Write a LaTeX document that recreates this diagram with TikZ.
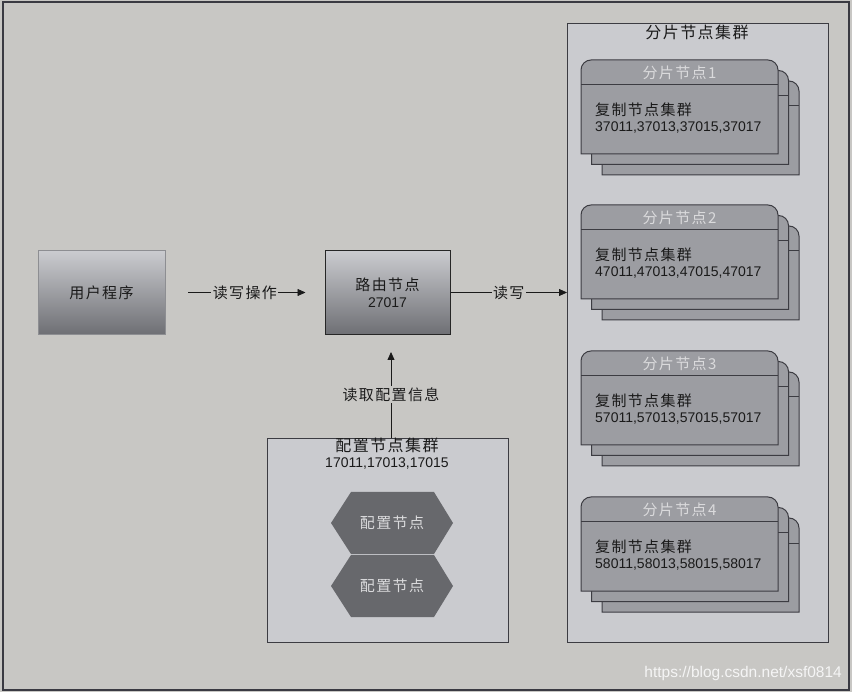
\documentclass[tikz,border=0pt]{standalone}
\usepackage{fontspec}
\setmainfont{Liberation Sans}
\newfontfamily\cjk[LetterSpace=9]{Noto Sans CJK SC}
\usetikzlibrary{arrows.meta}
\definecolor{bg}{HTML}{C8C7C4}
\definecolor{framec}{HTML}{3A3A42}
\definecolor{panel}{HTML}{CACBCF}
\definecolor{panelb}{HTML}{3C3C42}
\definecolor{cardf}{HTML}{9C9DA2}
\definecolor{cardtxt}{HTML}{DADADC}
\definecolor{hexf}{HTML}{67686C}
\definecolor{gtop}{HTML}{CBCCD0}
\definecolor{gbot}{HTML}{6E6F74}
\definecolor{ink}{HTML}{1A1A1A}
\definecolor{userb}{HTML}{8D8E92}
\tikzset{
  panelbox/.style={draw=panelb, fill=panel, line width=1pt, inner sep=0pt},
  gradbox/.style={top color=gtop, bottom color=gbot, inner sep=0pt, text=ink,
    minimum height=84pt, align=center},
  cardshape/.style={draw=panelb, fill=cardf, line width=1pt},
  hexshape/.style={fill=hexf},
  cn/.style={font=\cjk\fontsize{15}{18}\selectfont, text=ink, inner sep=1pt},
  num/.style={font=\fontsize{14}{18}\selectfont, text=ink, inner sep=1pt},
  headtxt/.style={font=\cjk\fontsize{15}{18}\selectfont, text=cardtxt, inner sep=1pt},
  hextxt/.style={font=\cjk\fontsize{15}{18}\selectfont, text=cardtxt, inner sep=1pt},
  arr/.style={draw=ink, line width=0.8pt, -{Triangle[length=8pt,width=7pt]}},
  lbl/.style={fill=bg, font=\cjk\fontsize{15}{18}\selectfont, text=ink, inner sep=1.5pt},
}
\newcommand\cardpath[3]{% dx dy top
  \draw[cardshape] (581+#1,#3+#2+94) -- (581+#1,#3+#2+10)
    arc[start angle=180,end angle=90,radius=10pt] -- (768+#1,#3+#2)
    arc[start angle=90,end angle=0,radius=10pt] -- (778+#1,#3+#2+94) -- cycle;
  \draw[panelb, line width=1pt] (581+#1,#3+#2+25) -- (778+#1,#3+#2+25);
}
\newcommand\shardcard[3]{% index top ports
  \cardpath{21}{21}{#2}
  \cardpath{10.5}{10.5}{#2}
  \cardpath{0}{0}{#2}
  \node[headtxt] (head#1) at (679.5,#2+12.5) {分片节点#1};
  \node[cn, anchor=west] (rep#1) at (594,#2+50) {复制节点集群};
  \node[num, anchor=west] (ports#1) at (594,#2+68) {#3};
}
\newcommand\hexa[2]{% name centre-y
  \fill[hexshape] (331,#2) -- (351,#2-31) -- (434,#2-31) -- (453,#2) -- (434,#2+31) -- (351,#2+31) -- cycle;
  \node[hextxt] (#1) at (392,#2) {配置节点};
}
\begin{document}
\begin{tikzpicture}[x=1pt,y=-1pt]
\useasboundingbox (0,0) rectangle (852,692);
\fill[bg] (0,0) rectangle (852,692);
\draw[framec, line width=2pt] (3,2) rectangle (849,690);

% shard cluster
\node[panelbox, anchor=north west, minimum width=261pt, minimum height=619pt] (shards) at (567,23) {};
\node[cn, font=\cjk\fontsize{16}{18}\selectfont] (shardtitle) at (697,32) {分片节点集群};
\shardcard{1}{60}{37011,37013,37015,37017}
\shardcard{2}{205}{47011,47013,47015,47017}
\shardcard{3}{351}{57011,57013,57015,57017}
\shardcard{4}{497}{58011,58013,58015,58017}

% user and router
\node[gradbox, draw=userb, minimum width=127pt, font=\cjk\fontsize{15}{18}\selectfont] (user) at (101.5,292.5) {用户程序};
\node[gradbox, draw=black!85, line width=1pt, minimum width=125pt, font=\cjk\fontsize{15}{18}\selectfont] (router) at (387.5,292.5)
  {路由节点\\[-1pt]{\normalfont\fontsize{14}{18}\selectfont 27017}};

% config cluster
\node[panelbox, anchor=north west, minimum width=241pt, minimum height=204pt] (config) at (267,438) {};
\node[cn, font=\cjk\fontsize{16}{18}\selectfont] (configtitle) at (387,445) {配置节点集群};
\node[num] (configports) at (387,464) {17011,17013,17015};
\hexa{cfg1}{523}
\hexa{cfg2}{586}

% connectors
\draw[arr, shorten <=23pt, shorten >=19pt] (user.east) -- node[lbl] {读写操作} (router.west);
\draw[arr] (router.east) -- node[lbl] {读写} (router.east -| shards.west);
\coordinate (cfgtop) at (391,438);
\coordinate (routerin) at (391,334);
\draw[arr, shorten >=18pt] (cfgtop) -- node[lbl, pos=0.42] {读取配置信息} (routerin);

% watermark
\node[anchor=east, text=white!92!gray, font=\fontsize{15.5}{17}\selectfont, inner sep=0pt] (wm) at (842,673) {https://blog.csdn.net/xsf0814};
\end{tikzpicture}
\end{document}
